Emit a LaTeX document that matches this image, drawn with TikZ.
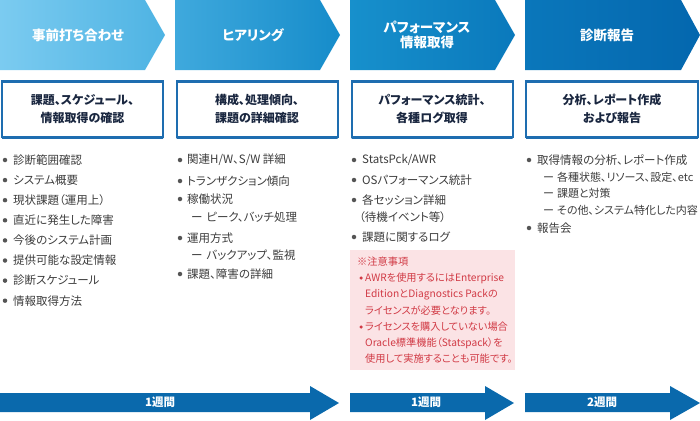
\documentclass[tikz,border=0pt]{standalone}
\usepackage{fontspec}
\setmainfont[RawFeature=+palt]{Noto Sans CJK JP}
\definecolor{c1l}{HTML}{7BCBF0}
\definecolor{c1r}{HTML}{4EB3E3}
\definecolor{c2l}{HTML}{3FA9DD}
\definecolor{c2r}{HTML}{168CCA}
\definecolor{c3l}{HTML}{1790CC}
\definecolor{c3r}{HTML}{0A79BC}
\definecolor{c4l}{HTML}{0A77BB}
\definecolor{c4r}{HTML}{0467AE}
\definecolor{boxblue}{HTML}{1E6DB0}
\definecolor{boxlight}{HTML}{6CC4EE}
\definecolor{navy}{HTML}{1A2740}
\definecolor{itemgray}{HTML}{3C3C3C}
\definecolor{dotgray}{HTML}{555555}
\definecolor{pinkbg}{HTML}{FBE3E5}
\definecolor{notered}{HTML}{D13A45}
\definecolor{arrowblue}{HTML}{0A69AC}
\begin{document}
\begin{tikzpicture}[x=1pt,y=-1pt,
  chevtext/.style={text=white,font=\bfseries\fontsize{13.5}{15.5}\selectfont,align=center,inner sep=0pt},
  stagebox/.style={draw=boxblue,line width=2pt,fill=white,outer sep=0pt,minimum width=161pt,minimum height=56pt,
    text=navy,font=\bfseries\fontsize{12}{18}\selectfont,align=center},
  item/.style={anchor=west,inner sep=0pt,text=itemgray,font=\fontsize{11.5}{13}\selectfont},
  subitem/.style={item,font=\fontsize{11}{13}\selectfont},
  dotmark/.style={circle,fill=dotgray,inner sep=0pt,minimum size=4.5pt},
  note/.style={anchor=west,inner sep=0pt,text=notered,font=\fontsize{10.2}{12}\selectfont},
  notedot/.style={circle,fill=notered,inner sep=0pt,minimum size=3.5pt},
  weektext/.style={text=white,font=\bfseries\fontsize{11.5}{13}\selectfont,inner sep=0pt}
]
\useasboundingbox (0,0) rectangle (700,420);

% stage chevrons
\shade[left color=c1l,right color=c1r] (0,0) -- (145,0) -- (165,35) -- (145,70) -- (0,70) -- cycle;
\shade[left color=c2l,right color=c2r] (175,0) -- (320,0) -- (340,35) -- (320,70) -- (175,70) -- cycle;
\shade[left color=c3l,right color=c3r] (350,0) -- (495,0) -- (515,35) -- (495,70) -- (350,70) -- cycle;
\shade[left color=c4l,right color=c4r] (525,0) -- (681,0) -- (700,35) -- (681,70) -- (525,70) -- cycle;
\node[chevtext] (h1) at (78,35) {事前打ち合わせ};
\node[chevtext] (h2) at (253,35) {ヒアリング};
\node[chevtext] (h3) at (427,35) {パフォーマンス\\情報取得};
\node[chevtext] (h4) at (607,35) {診断報告};

% stage boxes
\node[stagebox] (b1) at (82.5,109) {課題、スケジュール、\\情報取得の確認};
\node[stagebox] (b2) at (257,109) {構成、処理傾向、\\課題の詳細確認};
\node[stagebox] (b3) at (432,109) {パフォーマンス統計、\\各種ログ取得};
\node[stagebox,minimum width=172pt] (b4) at (612,109) {分析、レポート作成\\および報告};
\foreach \b in {b1,b2,b3,b4}{
  \shade[left color=boxblue,middle color=boxlight,right color=boxblue]
    ([yshift=1pt]\b.north west) rectangle ([yshift=-1pt]\b.north east);
  \shade[left color=boxblue,middle color=boxlight,right color=boxblue]
    ([yshift=1pt]\b.south west) rectangle ([yshift=-1pt]\b.south east);
}

% column 1
\foreach \y/\t [count=\i] in {160/診断範囲確認,180.1/システム概要,200.2/現状課題（運用上）,220.3/直近に発生した障害,240.4/今後のシステム計画,260.5/提供可能な設定情報,280.6/診断スケジュール,300.7/情報取得方法}{
  \node[dotmark] (d1-\i) at (5,\y) {};
  \node[item] (t1-\i) at (13,\y) {\t};
}

% column 2
\node[dotmark] (d2-1) at (180,160) {};
\node[item] (t2-1) at (187,160) {関連H/W、S/W 詳細};
\node[dotmark] (d2-2) at (180,181) {};
\node[item] (t2-2) at (187,181) {トランザクション傾向};
\node[dotmark] (d2-3) at (180,199) {};
\node[item] (t2-3) at (187,199) {稼働状況};
\node[item] (t2-4) at (191,217) {ー\hspace{4pt}ピーク、バッチ処理};
\node[dotmark] (d2-5) at (180,238) {};
\node[item] (t2-5) at (187,238) {運用方式};
\node[item] (t2-6) at (191,255) {ー\hspace{4pt}バックアップ、監視};
\node[dotmark] (d2-7) at (180,274) {};
\node[item] (t2-7) at (187,274) {課題、障害の詳細};

% column 3
\node[dotmark] (d3-1) at (354,160) {};
\node[item] (t3-1) at (362,160) {StatsPck/AWR};
\node[dotmark] (d3-2) at (354,180) {};
\node[item] (t3-2) at (362,180) {OSパフォーマンス統計};
\node[dotmark] (d3-3) at (354,200) {};
\node[item] (t3-3) at (362,200) {各セッション詳細};
\node[item] (t3-4) at (359,217) {（待機イベント等）};
\node[dotmark] (d3-5) at (354,237) {};
\node[item] (t3-5) at (362,237) {課題に関するログ};

% caution box
\fill[pinkbg] (350,250) rectangle (515,370);
\node[note] (n0) at (357,262) {※注意事項};
\node[notedot] (nd1) at (361,278) {};
\node[note] (n1) at (365,278) {AWRを使用するにはEnterprise};
\node[note] (n2) at (365,294.5) {EditionとDiagnostics Packの};
\node[note] (n3) at (365,311) {ライセンスが必要となります。};
\node[notedot] (nd2) at (361,327) {};
\node[note] (n4) at (365,327) {ライセンスを購入していない場合};
\node[note] (n5) at (365,343) {Oracle標準機能（Statspack）を};
\node[note] (n6) at (365,359) {使用して実施することも可能です。};

% column 4
\node[dotmark] (d4-1) at (529,160) {};
\node[item] (t4-1) at (537,160) {取得情報の分析、レポート作成};
\node[subitem] (t4-2) at (543,177) {ー\hspace{3pt}各種状態、リソース、設定、etc};
\node[subitem] (t4-3) at (543,193.5) {ー\hspace{3pt}課題と対策};
\node[subitem] (t4-4) at (543,210) {ー\hspace{3pt}その他、システム特化した内容};
\node[dotmark] (d4-5) at (529,228) {};
\node[item] (t4-5) at (537,228) {報告会};

% duration arrows
\fill[arrowblue] (0,393) -- (310,393) -- (310,386) -- (339,403) -- (310,420) -- (310,412) -- (0,412) -- cycle;
\fill[arrowblue] (350,393) -- (485,393) -- (485,386) -- (514,403) -- (485,420) -- (485,412) -- (350,412) -- cycle;
\fill[arrowblue] (525,393) -- (670,393) -- (670,386) -- (700,403) -- (670,420) -- (670,412) -- (525,412) -- cycle;
\node[weektext] (w1) at (160,402.5) {1週間};
\node[weektext] (w2) at (426,402.5) {1週間};
\node[weektext] (w3) at (602,402.5) {2週間};
\end{tikzpicture}
\end{document}
